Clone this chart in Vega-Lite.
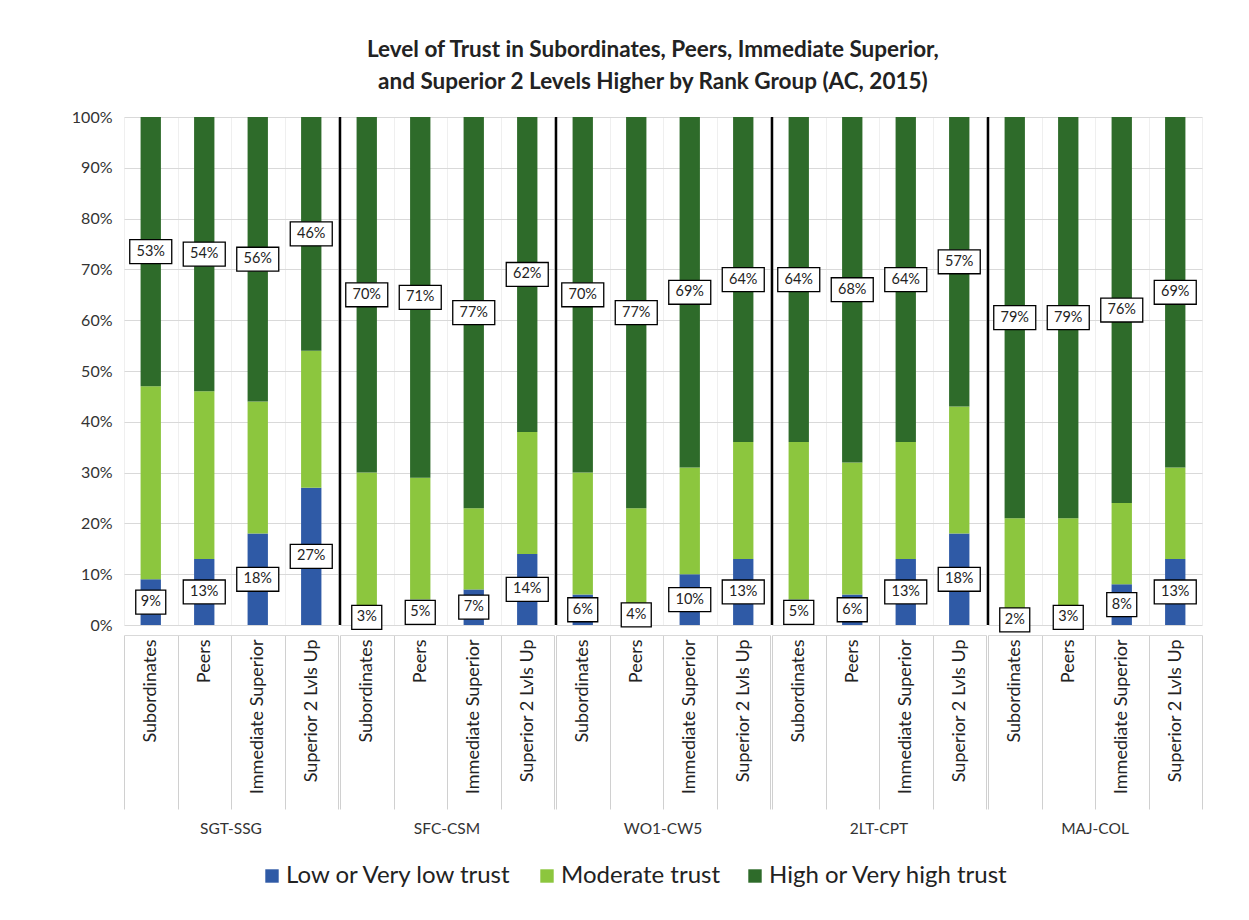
{
  "$schema": "https://vega.github.io/schema/vega-lite/v6.json",
  "padding": {"left": 71, "top": 38, "right": 10, "bottom": 10},
  "background": "white",
  "title": {
    "text": ["Level of Trust in Subordinates, Peers, Immediate Superior,", "and Superior 2 Levels Higher by Rank Group (AC, 2015)"],
    "fontSize": 22.5, "font": "Lato", "fontWeight": "bold", "color": "#222222",
    "anchor": "middle", "offset": 16, "lineHeight": 32, "dx": 16
  },
  "data": {"values": [
    {"g":"SGT-SSG","t":"Subordinates","l":"Low or Very low trust","k":1,"v":0.09},
    {"g":"SGT-SSG","t":"Subordinates","l":"Moderate trust","k":2,"v":0.38},
    {"g":"SGT-SSG","t":"Subordinates","l":"High or Very high trust","k":3,"v":0.53},
    {"g":"SGT-SSG","t":"Peers","l":"Low or Very low trust","k":1,"v":0.13},
    {"g":"SGT-SSG","t":"Peers","l":"Moderate trust","k":2,"v":0.33},
    {"g":"SGT-SSG","t":"Peers","l":"High or Very high trust","k":3,"v":0.54},
    {"g":"SGT-SSG","t":"Immediate Superior","l":"Low or Very low trust","k":1,"v":0.18},
    {"g":"SGT-SSG","t":"Immediate Superior","l":"Moderate trust","k":2,"v":0.26},
    {"g":"SGT-SSG","t":"Immediate Superior","l":"High or Very high trust","k":3,"v":0.56},
    {"g":"SGT-SSG","t":"Superior 2 Lvls Up","l":"Low or Very low trust","k":1,"v":0.27},
    {"g":"SGT-SSG","t":"Superior 2 Lvls Up","l":"Moderate trust","k":2,"v":0.27},
    {"g":"SGT-SSG","t":"Superior 2 Lvls Up","l":"High or Very high trust","k":3,"v":0.46},
    {"g":"SFC-CSM","t":"Subordinates","l":"Low or Very low trust","k":1,"v":0.03},
    {"g":"SFC-CSM","t":"Subordinates","l":"Moderate trust","k":2,"v":0.27},
    {"g":"SFC-CSM","t":"Subordinates","l":"High or Very high trust","k":3,"v":0.70},
    {"g":"SFC-CSM","t":"Peers","l":"Low or Very low trust","k":1,"v":0.05},
    {"g":"SFC-CSM","t":"Peers","l":"Moderate trust","k":2,"v":0.24},
    {"g":"SFC-CSM","t":"Peers","l":"High or Very high trust","k":3,"v":0.71},
    {"g":"SFC-CSM","t":"Immediate Superior","l":"Low or Very low trust","k":1,"v":0.07},
    {"g":"SFC-CSM","t":"Immediate Superior","l":"Moderate trust","k":2,"v":0.16},
    {"g":"SFC-CSM","t":"Immediate Superior","l":"High or Very high trust","k":3,"v":0.77},
    {"g":"SFC-CSM","t":"Superior 2 Lvls Up","l":"Low or Very low trust","k":1,"v":0.14},
    {"g":"SFC-CSM","t":"Superior 2 Lvls Up","l":"Moderate trust","k":2,"v":0.24},
    {"g":"SFC-CSM","t":"Superior 2 Lvls Up","l":"High or Very high trust","k":3,"v":0.62},
    {"g":"WO1-CW5","t":"Subordinates","l":"Low or Very low trust","k":1,"v":0.06},
    {"g":"WO1-CW5","t":"Subordinates","l":"Moderate trust","k":2,"v":0.24},
    {"g":"WO1-CW5","t":"Subordinates","l":"High or Very high trust","k":3,"v":0.70},
    {"g":"WO1-CW5","t":"Peers","l":"Low or Very low trust","k":1,"v":0.04},
    {"g":"WO1-CW5","t":"Peers","l":"Moderate trust","k":2,"v":0.19},
    {"g":"WO1-CW5","t":"Peers","l":"High or Very high trust","k":3,"v":0.77},
    {"g":"WO1-CW5","t":"Immediate Superior","l":"Low or Very low trust","k":1,"v":0.10},
    {"g":"WO1-CW5","t":"Immediate Superior","l":"Moderate trust","k":2,"v":0.21},
    {"g":"WO1-CW5","t":"Immediate Superior","l":"High or Very high trust","k":3,"v":0.69},
    {"g":"WO1-CW5","t":"Superior 2 Lvls Up","l":"Low or Very low trust","k":1,"v":0.13},
    {"g":"WO1-CW5","t":"Superior 2 Lvls Up","l":"Moderate trust","k":2,"v":0.23},
    {"g":"WO1-CW5","t":"Superior 2 Lvls Up","l":"High or Very high trust","k":3,"v":0.64},
    {"g":"2LT-CPT","t":"Subordinates","l":"Low or Very low trust","k":1,"v":0.05},
    {"g":"2LT-CPT","t":"Subordinates","l":"Moderate trust","k":2,"v":0.31},
    {"g":"2LT-CPT","t":"Subordinates","l":"High or Very high trust","k":3,"v":0.64},
    {"g":"2LT-CPT","t":"Peers","l":"Low or Very low trust","k":1,"v":0.06},
    {"g":"2LT-CPT","t":"Peers","l":"Moderate trust","k":2,"v":0.26},
    {"g":"2LT-CPT","t":"Peers","l":"High or Very high trust","k":3,"v":0.68},
    {"g":"2LT-CPT","t":"Immediate Superior","l":"Low or Very low trust","k":1,"v":0.13},
    {"g":"2LT-CPT","t":"Immediate Superior","l":"Moderate trust","k":2,"v":0.23},
    {"g":"2LT-CPT","t":"Immediate Superior","l":"High or Very high trust","k":3,"v":0.64},
    {"g":"2LT-CPT","t":"Superior 2 Lvls Up","l":"Low or Very low trust","k":1,"v":0.18},
    {"g":"2LT-CPT","t":"Superior 2 Lvls Up","l":"Moderate trust","k":2,"v":0.25},
    {"g":"2LT-CPT","t":"Superior 2 Lvls Up","l":"High or Very high trust","k":3,"v":0.57},
    {"g":"MAJ-COL","t":"Subordinates","l":"Low or Very low trust","k":1,"v":0.02},
    {"g":"MAJ-COL","t":"Subordinates","l":"Moderate trust","k":2,"v":0.19},
    {"g":"MAJ-COL","t":"Subordinates","l":"High or Very high trust","k":3,"v":0.79},
    {"g":"MAJ-COL","t":"Peers","l":"Low or Very low trust","k":1,"v":0.03},
    {"g":"MAJ-COL","t":"Peers","l":"Moderate trust","k":2,"v":0.18},
    {"g":"MAJ-COL","t":"Peers","l":"High or Very high trust","k":3,"v":0.79},
    {"g":"MAJ-COL","t":"Immediate Superior","l":"Low or Very low trust","k":1,"v":0.08},
    {"g":"MAJ-COL","t":"Immediate Superior","l":"Moderate trust","k":2,"v":0.16},
    {"g":"MAJ-COL","t":"Immediate Superior","l":"High or Very high trust","k":3,"v":0.76},
    {"g":"MAJ-COL","t":"Superior 2 Lvls Up","l":"Low or Very low trust","k":1,"v":0.13},
    {"g":"MAJ-COL","t":"Superior 2 Lvls Up","l":"Moderate trust","k":2,"v":0.18},
    {"g":"MAJ-COL","t":"Superior 2 Lvls Up","l":"High or Very high trust","k":3,"v":0.69}
  ]},
  "transform": [
    {"stack": "v", "groupby": ["g", "t"], "sort": [{"field": "k", "order": "ascending"}], "as": ["v0", "v1"]},
    {"calculate": "(datum.v0 + datum.v1) / 2", "as": "vm"}
  ],
  "facet": {
    "column": {
      "field": "g", "type": "nominal",
      "sort": ["SGT-SSG", "SFC-CSM", "WO1-CW5", "2LT-CPT", "MAJ-COL"],
      "header": {"title": null, "labelOrient": "bottom", "labelFontSize": 15.5, "labelFont": "Lato", "labelColor": "#333333", "labelPadding": 12}
    }
  },
  "spacing": 0,
  "spec": {
    "width": 214,
    "height": 508,
    "layer": [
      {
        "mark": {"type": "bar", "width": {"band": 0.38}},
        "encoding": {
          "x": {
            "field": "t", "type": "nominal",
            "sort": ["Subordinates", "Peers", "Immediate Superior", "Superior 2 Lvls Up"],
            "scale": {"paddingInner": 0, "paddingOuter": 0},
            "axis": {
              "title": null, "labelAngle": -90, "labelFontSize": 18, "labelFont": "Lato", "labelColor": "#222222",
              "tickBand": "extent", "tickSize": 174, "tickColor": "#d0d0d0", "labelPadding": -170,
              "domainColor": "#d9d9d9", "grid": true, "gridColor": "#efefef"
            }
          },
          "y": {
            "field": "v1", "type": "quantitative", "title": null,
            "scale": {"domain": [0, 1], "nice": false, "clamp": true},
            "axis": {
              "format": ".0%", "tickCount": 10, "labelFontSize": 16, "labelFont": "Lato", "labelColor": "#333333",
              "labelPadding": 12, "ticks": false, "domain": false, "gridColor": "#d9d9d9"
            }
          },
          "y2": {"field": "v0"},
          "color": {
            "field": "l", "type": "nominal",
            "scale": {
              "domain": ["Low or Very low trust", "Moderate trust", "High or Very high trust"],
              "range": ["#2f5aa6", "#8cc63e", "#2e6b2a"]
            },
            "legend": {
              "title": null, "orient": "none", "legendX": 136, "legendY": 747, "direction": "horizontal",
              "labelFontSize": 24, "labelFont": "Lato", "labelLimit": 0, "labelOffset": 2,
              "labelColor": "#222222", "symbolType": "square", "symbolSize": 180, "columnPadding": 22, "symbolStrokeWidth": 0
            }
          }
        }
      },
      {
        "transform": [{"filter": "datum.l !== 'Moderate trust'"}],
        "mark": {"type": "point", "filled": true, "fill": "white", "stroke": "black", "strokeWidth": 1.3, "opacity": 1},
        "encoding": {
          "x": {"field": "t", "type": "nominal", "sort": ["Subordinates", "Peers", "Immediate Superior", "Superior 2 Lvls Up"]},
          "y": {"field": "vm", "type": "quantitative", "title": null},
          "shape": {"condition": {"test": "datum.v < 0.095", "value": "M-1,-0.8H1V0.8H-1Z"}, "value": "M-1,-0.57H1V0.57H-1Z"},
          "size": {"condition": {"test": "datum.v < 0.095", "value": 900}, "value": 1764}
        }
      },
      {
        "transform": [{"filter": "datum.l !== 'Moderate trust'"}],
        "mark": {"type": "text", "fontSize": 14.5, "font": "Lato", "color": "#222222"},
        "encoding": {
          "x": {"field": "t", "type": "nominal", "sort": ["Subordinates", "Peers", "Immediate Superior", "Superior 2 Lvls Up"]},
          "y": {"field": "vm", "type": "quantitative", "title": null},
          "text": {"field": "v", "type": "quantitative", "format": ".0%"}
        }
      },
      {
        "transform": [{"filter": "datum.g !== 'SGT-SSG' && datum.t === 'Subordinates' && datum.k === 3"}],
        "mark": {"type": "rule", "color": "black", "strokeWidth": 2.5},
        "encoding": {
          "x": {"field": "t", "type": "nominal", "sort": ["Subordinates", "Peers", "Immediate Superior", "Superior 2 Lvls Up"], "bandPosition": 0}
        }
      }
    ]
  },
  "config": {"view": {"stroke": null}, "font": "Lato"}
}
